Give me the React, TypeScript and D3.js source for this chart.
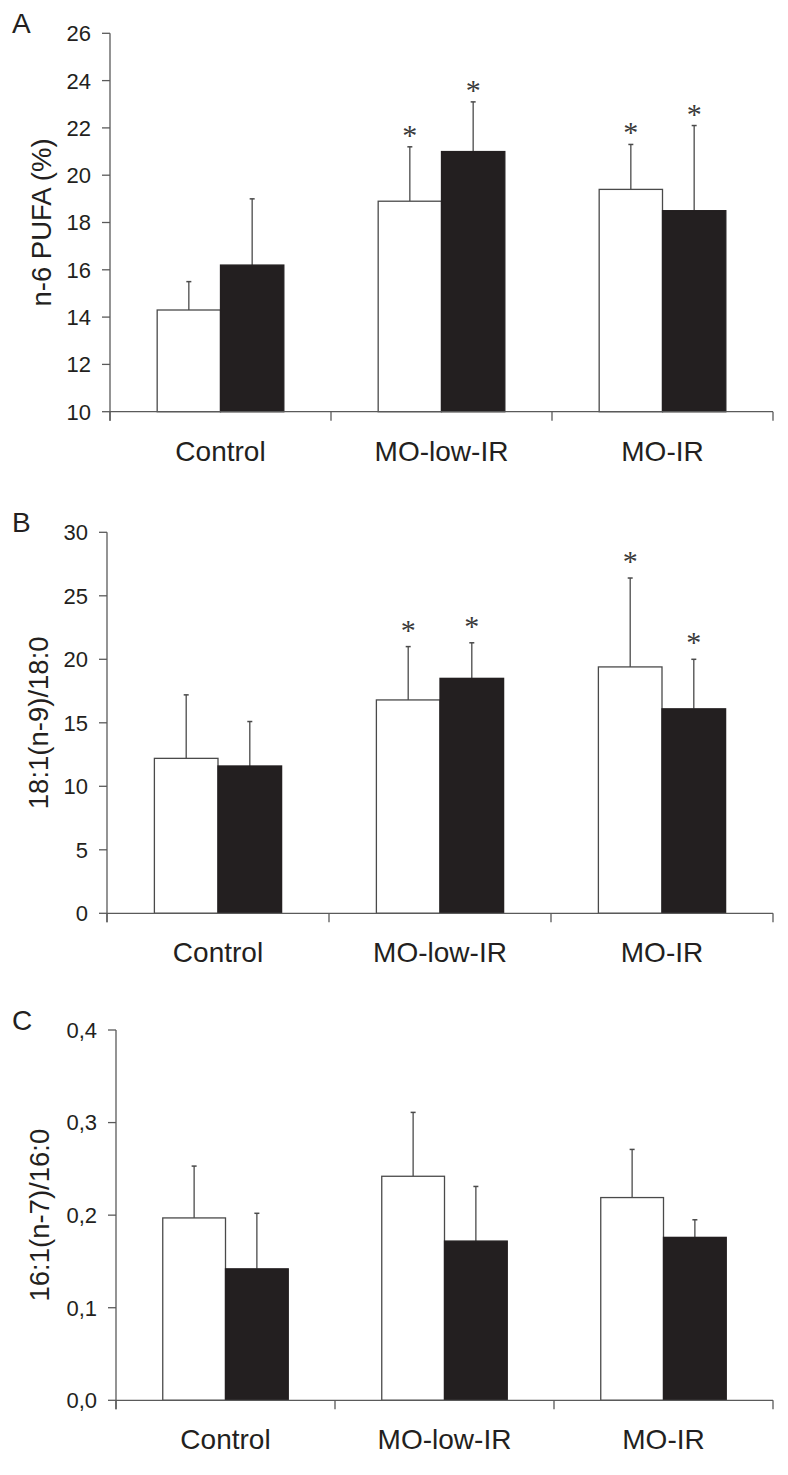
import React from "react";
import * as d3 from "d3";

const categories = ["Control", "MO-low-IR", "MO-IR"];
const seriesKeys = ["open", "filled"];

// Panel A: n-6 PUFA (%)
const aOpen = [14.3, 18.9, 19.4];
const aOpenSD = [1.2, 2.3, 1.9];
const aFilled = [16.2, 21.0, 18.5];
const aFilledSD = [2.8, 2.1, 3.6];
const aOpenSig = [false, true, true];
const aFilledSig = [false, true, true];
const aTicks = [10, 12, 14, 16, 18, 20, 22, 24, 26];

// Panel B: 18:1(n-9)/18:0
const bOpen = [12.2, 16.8, 19.4];
const bOpenSD = [5.0, 4.2, 7.0];
const bFilled = [11.6, 18.5, 16.1];
const bFilledSD = [3.5, 2.8, 3.9];
const bOpenSig = [false, true, true];
const bFilledSig = [false, true, true];
const bTicks = [0, 5, 10, 15, 20, 25, 30];

// Panel C: 16:1(n-7)/16:0
const cOpen = [0.197, 0.242, 0.219];
const cOpenSD = [0.056, 0.069, 0.052];
const cFilled = [0.142, 0.172, 0.176];
const cFilledSD = [0.060, 0.059, 0.019];
const cOpenSig = [false, false, false];
const cFilledSig = [false, false, false];
const cTicks = [0, 0.1, 0.2, 0.3, 0.4];

const panelLabels = ["A", "B", "C"];
const yTitles = ["n-6 PUFA (%)", "18:1(n-9)/18:0", "16:1(n-7)/16:0"];

const INK = "#231f20";
const AXIS = "#5a5a5a";
const FONT = "'Liberation Sans', Arial, Helvetica, sans-serif";

type PanelProps = {
  label: string;
  title: string;
  open: number[];
  openSD: number[];
  filled: number[];
  filledSD: number[];
  openSig: boolean[];
  filledSig: boolean[];
  ticks: number[];
  fmt: (v: number) => string;
  x0: number;
  x1: number;
  yTop: number;
  yBottom: number;
  titleX: number;
  starOffset: number;
};

function Panel(p: PanelProps) {
  const domain = [p.ticks[0], p.ticks[p.ticks.length - 1]];
  const y = d3.scaleLinear().domain(domain).range([p.yBottom, p.yTop]);
  const xc = d3.scaleBand<string>().domain(categories).range([p.x0, p.x1]).padding(0);
  const xs = d3
    .scaleBand<string>()
    .domain(seriesKeys)
    .range([0, xc.bandwidth()])
    .paddingInner(0)
    .paddingOuter(0.745);
  const boundaries = [...categories.map((c) => xc(c) as number), p.x1];
  const series = [
    { key: "open", vals: p.open, sd: p.openSD, sig: p.openSig, fill: "#ffffff", stroke: "#4a4a4a" },
    { key: "filled", vals: p.filled, sd: p.filledSD, sig: p.filledSig, fill: INK, stroke: INK },
  ];
  const yb = y(domain[0]);
  return (
    <g>
      <text x={12} y={p.yTop} fontSize={28} fontFamily={FONT} fill={INK}>
        {p.label}
      </text>
      {series.map((s) =>
        categories.map((c, i) => {
          const bx = (xc(c) as number) + (xs(s.key) as number);
          const bw = xs.bandwidth();
          const top = y(s.vals[i]);
          const errTop = y(s.vals[i] + s.sd[i]);
          const cx = bx + bw / 2;
          return (
            <g key={s.key + c}>
              <line x1={cx} x2={cx} y1={top} y2={errTop} stroke="#4a4a4a" strokeWidth={1.3} />
              <line x1={cx - 2.5} x2={cx + 2.5} y1={errTop} y2={errTop} stroke="#4a4a4a" strokeWidth={1.5} />
              <rect x={bx} y={top} width={bw} height={yb - top} fill={s.fill} stroke={s.stroke} strokeWidth={1.3} />
              {s.sig[i] && (
                <text
                  x={cx}
                  y={errTop - p.starOffset + 15}
                  textAnchor="middle"
                  fontSize={30}
                  fontFamily="'Liberation Serif', 'Times New Roman', serif"
                  fill="#3a3a3a"
                >
                  *
                </text>
              )}
            </g>
          );
        })
      )}
      <line x1={p.x0} x2={p.x0} y1={p.yTop} y2={yb + 9} stroke={AXIS} strokeWidth={1.3} />
      {p.ticks.map((t) => (
        <g key={t}>
          <line x1={p.x0 - 8} x2={p.x0} y1={y(t)} y2={y(t)} stroke={AXIS} strokeWidth={1.3} />
          <text
            x={p.x0 - 19}
            y={y(t)}
            dy="0.36em"
            textAnchor="end"
            fontSize={22}
            fontFamily={FONT}
            fill={INK}
          >
            {p.fmt(t)}
          </text>
        </g>
      ))}
      <line x1={p.x0} x2={p.x1} y1={yb} y2={yb} stroke={AXIS} strokeWidth={1.3} />
      {boundaries.map((bx, i) => (
        <line key={i} x1={bx} x2={bx} y1={yb} y2={yb + 9} stroke={AXIS} strokeWidth={1.3} />
      ))}
      {categories.map((c) => (
        <text
          key={c}
          x={(xc(c) as number) + xc.bandwidth() / 2}
          y={yb + 49}
          textAnchor="middle"
          fontSize={28}
          fontFamily={FONT}
          fill={INK}
        >
          {c}
        </text>
      ))}
      <text
        transform={`translate(${p.titleX},${(p.yTop + yb) / 2}) rotate(-90)`}
        dy="0.36em"
        textAnchor="middle"
        fontSize={27.5}
        fontFamily={FONT}
        fill={INK}
      >
        {p.title}
      </text>
    </g>
  );
}

export default function App() {
  const intFmt = (v: number) => String(v);
  const commaFmt = (v: number) => d3.format(".1f")(v).replace(".", ",");
  return (
    <svg
      width={788}
      height={1475}
      style={{ position: "absolute", left: 0, top: 0, display: "block", background: "#fff" }}
    >
      <rect width={788} height={1475} fill="#fff" />
      <Panel
        label={panelLabels[0]}
        title={yTitles[0]}
        open={aOpen}
        openSD={aOpenSD}
        filled={aFilled}
        filledSD={aFilledSD}
        openSig={aOpenSig}
        filledSig={aFilledSig}
        ticks={aTicks}
        fmt={intFmt}
        x0={110}
        x1={773}
        yTop={33.3}
        yBottom={411.7}
        titleX={41}
        starOffset={17}
      />
      <Panel
        label={panelLabels[1]}
        title={yTitles[1]}
        open={bOpen}
        openSD={bOpenSD}
        filled={bFilled}
        filledSD={bFilledSD}
        openSig={bOpenSig}
        filledSig={bFilledSig}
        ticks={bTicks}
        fmt={intFmt}
        x0={107}
        x1={773}
        yTop={532.3}
        yBottom={913.3}
        titleX={38}
        starOffset={22}
      />
      <Panel
        label={panelLabels[2]}
        title={yTitles[2]}
        open={cOpen}
        openSD={cOpenSD}
        filled={cFilled}
        filledSD={cFilledSD}
        openSig={cOpenSig}
        filledSig={cFilledSig}
        ticks={cTicks}
        fmt={commaFmt}
        x0={116}
        x1={773}
        yTop={1030}
        yBottom={1400.3}
        titleX={39}
        starOffset={20}
      />
    </svg>
  );
}
